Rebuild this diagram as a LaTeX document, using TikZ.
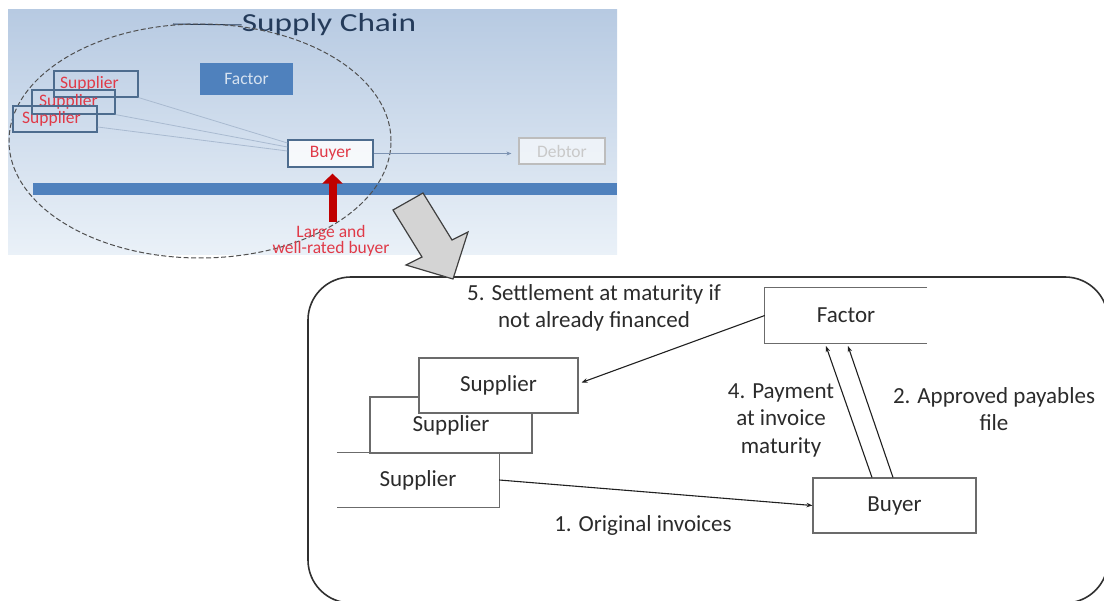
\documentclass[tikz,border=0pt]{standalone}
\usepackage{fontspec}
\setmainfont{Carlito}
\usetikzlibrary{arrows.meta,calc,shapes.geometric}
\definecolor{panelTop}{HTML}{B7CAE2}
\definecolor{panelMid}{HTML}{EEF3F9}
\definecolor{panelBot}{HTML}{EAF1F8}
\definecolor{barblue}{HTML}{4F81BD}
\definecolor{titlec}{HTML}{243B5A}
\definecolor{tboxc}{HTML}{4D6C8E}
\definecolor{tred}{HTML}{E03A48}
\definecolor{darkred}{HTML}{C00000}
\definecolor{tline}{HTML}{A9BAD0}
\definecolor{tarrowc}{HTML}{7D93B2}
\definecolor{debtc}{HTML}{BDBDBD}
\definecolor{debttext}{HTML}{C9C9C9}
\definecolor{factortext}{HTML}{D6E2F0}
\definecolor{ellc}{HTML}{505050}
\definecolor{arrgray}{HTML}{D4D4D4}
\definecolor{arrdark}{HTML}{404040}
\definecolor{rrc}{HTML}{303030}
\definecolor{lboxc}{HTML}{6B6B6B}
\definecolor{ltext}{HTML}{2B2B2B}
\definecolor{lline}{HTML}{202020}
\newcommand\fsz[2]{\fontsize{#1pt}{#2pt}\selectfont}
\begin{document}
\begin{tikzpicture}[x=1pt,y=-1pt,
  tbox/.style={draw=tboxc, line width=1.2pt, inner sep=0pt},
  ttext/.style={text=tred, font=\fsz{17.5}{16}, inner sep=0pt},
  tline/.style={draw=tline, line width=0.8pt},
  lbox/.style={draw=lboxc, line width=1.1pt, fill=white, inner sep=0pt, font=\fsz{23}{27.5}, text=ltext},
  lopen/.style={inner sep=0pt, font=\fsz{23}{27.5}, text=ltext},
  ltxt/.style={font=\fsz{23}{27.5}, text=ltext, align=center, inner sep=0pt},
  conn/.style={draw=lline, line width=1.1pt, -{Stealth[length=6pt,width=4.5pt]}}
]
\useasboundingbox (0,0) rectangle (1104,601);
% ---------- top panel ----------
\shade[top color=panelTop, middle color=panelMid, bottom color=panelBot] (8,10) rectangle (617,255);
\fill[barblue] (33,183) rectangle (617,195);
\node[text=titlec, font=\fsz{26}{30}, inner sep=0pt] (title) at (329,25) {\scalebox{1.28}[1]{Supply Chain}};
\coordinate (tl0) at (173,24);
\draw[draw=titlec, line width=1pt] (tl0) -- (title.west);
\node[draw=ellc, line width=1pt, dash pattern=on 5pt off 2.5pt, ellipse, minimum width=382pt, minimum height=234pt, inner sep=0pt] (ell) at (200,141) {};
\node[tbox, minimum width=84pt, minimum height=26pt] (ts1) at (96,84) {};
\node[ttext, anchor=west] (ts1t) at (60,84) {Supplier};
\node[tbox, minimum width=83pt, minimum height=24pt] (ts2) at (73.5,102) {};
\node[ttext, anchor=west] (ts2t) at (39,102) {Supplier};
\node[tbox, minimum width=84pt, minimum height=26pt] (ts3) at (55,119) {};
\node[ttext, anchor=west] (ts3t) at (22,119) {Supplier};
\node[fill=barblue, minimum width=93pt, minimum height=32pt, inner sep=0pt, text=factortext, font=\fsz{17.5}{20}] (tfactor) at (246.5,79) {Factor};
\node[tbox, fill=white, fill opacity=0.8, text opacity=1, minimum width=85pt, minimum height=27pt, text=tred, font=\fsz{17.5}{20}] (tbuyer) at (330.5,153.5) {Buyer};
\node[draw=debtc, line width=1.2pt, fill=white, fill opacity=0.6, text opacity=1, minimum width=86pt, minimum height=26pt, inner sep=0pt, text=debttext, font=\fsz{17.5}{20}] (tdebtor) at (562,151) {Debtor};
\draw[tline] (ts1.south east) -- ($(tbuyer.west)+(0,-10.5)$);
\draw[tline] (ts2.south east) -- ($(tbuyer.west)+(0,-6.5)$);
\draw[tline] ($(ts3.east)+(0,8)$) -- ($(tbuyer.west)+(0,-2.5)$);
\draw[draw=tarrowc, line width=0.8pt, -{Stealth[length=5pt,width=4pt]}, shorten >=7pt] (tbuyer.east) -- (tbuyer.east -| tdebtor.west);
\coordinate (rbase) at (332.5,222);
\draw[draw=darkred, line width=8pt, -{Triangle[length=10pt,width=20pt]}, shorten >=6pt] (rbase) -- (rbase |- tbuyer.south);
\node[ttext, align=center] (tlbl) at (331,241) {Large and\\well-rated buyer};
% ---------- lower panel ----------
\node[draw=rrc, line width=1.6pt, rounded corners=43pt, minimum width=800pt, minimum height=326pt, inner sep=0pt] (frame) at (708,440) {};
\node[lopen, minimum width=162pt, minimum height=54pt] (ls3) at (418,480) {Supplier};
\draw[draw=lboxc, line width=1.1pt] (ls3.north west) -- (ls3.north east) -- (ls3.south east) -- (ls3.south west);
\node[lbox, minimum width=162pt, minimum height=56pt] (ls2) at (451,425) {Supplier};
\node[lbox, minimum width=159pt, minimum height=55pt] (ls1) at (498.5,385.5) {Supplier};
\node[lopen, minimum width=162pt, minimum height=55pt] (lfactor) at (846,315.5) {Factor};
\draw[draw=lboxc, line width=1.1pt] (lfactor.north east) -- (lfactor.north west) -- (lfactor.south west) -- (lfactor.south east);
\node[lbox, minimum width=163pt, minimum height=55pt] (lbuyer) at (894.5,505.5) {Buyer};
\draw[conn] (ls3.east) -- (lbuyer.west);
\draw[conn] (lfactor.west) -- ($(ls1.east)+(3,-3)$);
\draw[conn, shorten >=3pt] ($(lbuyer.north)+(-22.5,0)$) -- ($(lfactor.south)+(-21,0)$);
\draw[conn, shorten >=3pt] ($(lbuyer.north)+(-1.5,0)$) -- ($(lfactor.south)+(1,0)$);
\node[ltxt] (lab5) at (594,308) {5. Settlement at maturity if\\not already financed};
\node[ltxt] (lab4) at (781,420) {4. Payment\\at invoice\\maturity};
\node[ltxt] (lab2) at (994,409) {2. Approved payables\\file};
\node[ltxt] (lab1) at (643,525) {1. Original invoices};
% ---------- big gray arrow ----------
\draw[fill=arrgray, draw=arrdark, line width=1.2pt, line join=miter] (393,210) -- (423,193) -- (452,240) -- (468,232) -- (453,279) -- (406,265) -- (422,257) -- cycle;
\end{tikzpicture}
\end{document}
